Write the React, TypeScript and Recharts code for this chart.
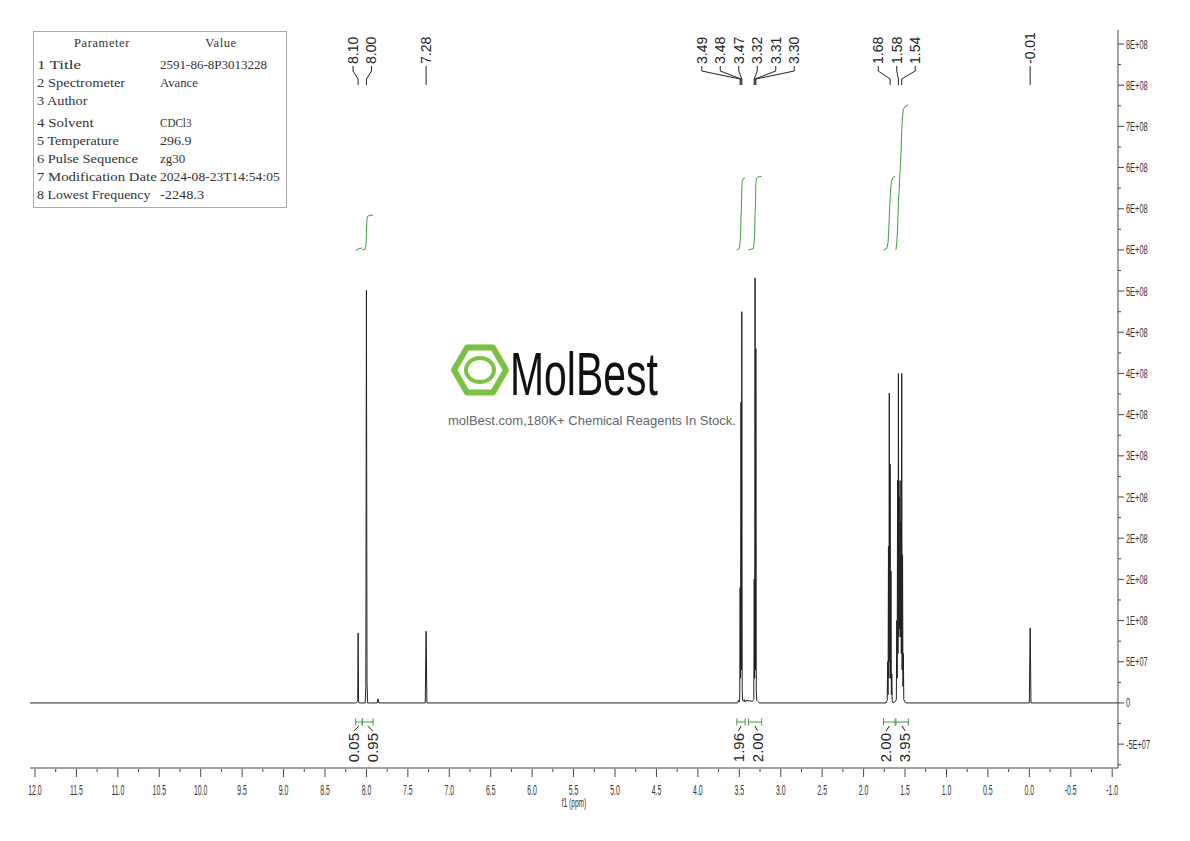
import React from "react";
import { ComposedChart, Line, Scatter, XAxis, YAxis } from "recharts";

// 1H NMR trace: [ppm, intensity]
const spectrum: [number, number][] = [
  [12.06, 0],
  [8.13, 0], [8.105, 0.02e8], [8.1, 0.85e8], [8.095, 0.02e8], [8.09, 0],
  [8.015, 0], [8.007, 0.2e8], [8.0, 5.01e8], [7.993, 0.25e8], [7.985, 0],
  [7.87, 0], [7.86, 0.05e8], [7.85, 0],
  [7.29, 0], [7.28, 0.87e8], [7.27, 0],
  [3.52, 0], [3.51, 0.03e8], [3.5, 0.01e8], [3.495, 0.05e8], [3.49, 1.4e8], [3.485, 0.3e8],
  [3.48, 3.65e8], [3.475, 0.4e8], [3.47, 4.75e8], [3.465, 0.15e8], [3.46, 0.03e8],
  [3.45, 0.02e8], [3.44, 0.04e8], [3.43, 0.01e8], [3.42, 0.03e8],
  [3.34, 0.02e8], [3.33, 0.04e8], [3.325, 0.05e8], [3.32, 1.5e8], [3.315, 0.3e8],
  [3.31, 5.16e8], [3.305, 0.4e8], [3.3, 4.3e8], [3.295, 0.15e8], [3.29, 0.03e8],
  [3.28, 0.02e8], [3.27, 0.01e8], [3.26, 0],
  [1.73, 0], [1.715, 0.03e8], [1.71, 0.5e8], [1.705, 0.1e8], [1.7, 1.9e8], [1.695, 0.3e8],
  [1.69, 3.76e8], [1.685, 0.5e8], [1.68, 2.9e8], [1.675, 0.3e8], [1.67, 1.6e8],
  [1.665, 0.1e8], [1.66, 0.35e8], [1.655, 0.03e8], [1.645, 0],
  [1.615, 0.02e8], [1.605, 0.04e8], [1.6, 1.0e8], [1.595, 0.3e8], [1.59, 2.7e8],
  [1.585, 0.6e8], [1.58, 4.0e8], [1.575, 0.8e8], [1.57, 2.5e8], [1.565, 0.9e8],
  [1.56, 2.7e8], [1.555, 0.8e8], [1.55, 2.2e8], [1.545, 0.6e8], [1.54, 4.0e8],
  [1.535, 0.4e8], [1.53, 1.8e8], [1.525, 0.2e8], [1.52, 0.6e8], [1.515, 0.04e8],
  [1.5, 0.01e8], [1.49, 0],
  [0.0, 0], [-0.01, 0.91e8], [-0.02, 0],
  [-1.07, 0],
];

const peakLabels = [8.1, 8.0, 7.28, 3.49, 3.48, 3.47, 3.32, 3.31, 3.3, 1.68, 1.58, 1.54, -0.01];

// integrals
const intFrom = [8.13, 8.05, 3.53, 3.39, 1.76, 1.61];
const intTo = [8.05, 7.92, 3.43, 3.23, 1.62, 1.46];
const intValues = [0.05, 0.95, 1.96, 2.0, 2.0, 3.95];
const intCurvePpm = [
  [8.13, 8.105, 8.095, 8.05],
  [8.05, 8.015, 8.007, 8.0, 7.993, 7.985, 7.95, 7.92],
  [3.53, 3.5, 3.49, 3.485, 3.48, 3.475, 3.47, 3.465, 3.45, 3.43],
  [3.39, 3.33, 3.32, 3.315, 3.31, 3.305, 3.3, 3.295, 3.28, 3.23],
  [1.76, 1.72, 1.705, 1.695, 1.685, 1.675, 1.665, 1.65, 1.62],
  [1.61, 1.6, 1.59, 1.58, 1.57, 1.56, 1.55, 1.54, 1.53, 1.52, 1.49, 1.46],
];
const intCurveFrac = [
  [0, 0.1, 0.9, 1],
  [0, 0.02, 0.1, 0.5, 0.9, 0.97, 0.99, 1],
  [0, 0.02, 0.12, 0.22, 0.45, 0.55, 0.85, 0.95, 0.99, 1],
  [0, 0.02, 0.12, 0.18, 0.5, 0.6, 0.9, 0.97, 0.99, 1],
  [0, 0.02, 0.1, 0.3, 0.6, 0.8, 0.93, 0.98, 1],
  [0, 0.05, 0.15, 0.32, 0.42, 0.55, 0.65, 0.82, 0.92, 0.97, 0.99, 1],
];

const xMajorTicks = [12, 11.5, 11, 10.5, 10, 9.5, 9, 8.5, 8, 7.5, 7, 6.5, 6, 5.5, 5, 4.5, 4, 3.5, 3, 2.5, 2, 1.5, 1, 0.5, 0, -0.5, -1];
const yMajorTicks = [-5e7, 0, 5e7, 1e8, 1.5e8, 2e8, 2.5e8, 3e8, 3.5e8, 4e8, 4.5e8, 5e8, 5.5e8, 6e8, 6.5e8, 7e8, 7.5e8, 8e8];

const paramNames = ["1 Title", "2 Spectrometer", "3 Author", "4 Solvent", "5 Temperature", "6 Pulse Sequence", "7 Modification Date", "8 Lowest Frequency"];
const paramValues = ["2591-86-8P3013228", "Avance", "", "CDCl3", "296.9", "zg30", "2024-08-23T14:54:05", "-2248.3"];

// layout
const W = 1190;
const H = 841;
const MARGIN = { top: 30, right: 10, bottom: 33, left: 30 };
const Y_AXIS_W = 62;
const X_AXIS_H = 40;
const X_DOMAIN: [number, number] = [-1.07, 12.06];
const Y_DOMAIN: [number, number] = [-7.9e7, 8.17e8];
const PLOT_W = W - MARGIN.left - MARGIN.right - Y_AXIS_W;
const PLOT_H = H - MARGIN.top - MARGIN.bottom - X_AXIS_H;
const PX_PER_PPM = PLOT_W / (X_DOMAIN[1] - X_DOMAIN[0]);
const PX_PER_UNIT = PLOT_H / (Y_DOMAIN[1] - Y_DOMAIN[0]);
const yAt = (py: number) => Y_DOMAIN[1] - (py - MARGIN.top) / PX_PER_UNIT;

const GREEN = "#3f9b3f";
const INK = "#222";
const AXIS_FONT = "Liberation Sans, Arial, sans-serif";

const INT_BASE_PX = 250;
const INT_PX_PER_UNIT = 36.8;

// group close items and spread their labels evenly around the group centre
function cluster(values: number[], gap: number): number[][] {
  const out: number[][] = [];
  values.forEach((v, i) => {
    const last = out[out.length - 1];
    if (last && Math.abs(values[last[last.length - 1]] - v) < gap) last.push(i);
    else out.push([i]);
  });
  return out;
}
function spread(centers: number[], gap: number, spacingPx: number): number[] {
  const pos: number[] = new Array(centers.length);
  cluster(centers, gap).forEach((g) => {
    const mid = g.reduce((s, i) => s + centers[i], 0) / g.length;
    g.forEach((i, k) => {
      pos[i] = mid + (((g.length - 1) / 2 - k) * spacingPx) / PX_PER_PPM;
    });
  });
  return pos;
}

const specData = spectrum.map(([x, y]) => ({ x, y }));

const topLabelPos = spread(peakLabels, 0.3, 18.5);
const topLabelData = peakLabels.map((p, i) => ({ x: topLabelPos[i], y: yAt(64), text: p.toFixed(2) }));
const topConnData = peakLabels.flatMap((p, i) => [
  { x: topLabelPos[i], y: yAt(66) },
  { x: topLabelPos[i], y: yAt(71) },
  { x: p, y: yAt(79) },
  { x: p, y: yAt(85) },
  { x: p, y: null },
]);

const intData = intCurvePpm.flatMap((ppms, k) => [
  ...ppms.map((p, j) => ({
    x: p,
    y: yAt(INT_BASE_PX - intValues[k] * INT_PX_PER_UNIT * intCurveFrac[k][j]),
  })),
  { x: ppms[ppms.length - 1], y: null },
]);

const bracketData = intFrom.flatMap((f, k) => {
  const t = intTo[k];
  return [
    { x: f, y: yAt(718.5) }, { x: f, y: yAt(725.5) }, { x: f, y: null },
    { x: f, y: yAt(722) }, { x: t, y: yAt(722) }, { x: t, y: null },
    { x: t, y: yAt(718.5) }, { x: t, y: yAt(725.5) }, { x: t, y: null },
  ];
});
const intCenters = intFrom.map((f, k) => (f + intTo[k]) / 2);
const intLabelPos = spread(intCenters, 0.35, 19);
const intLabelData = intValues.map((v, k) => ({ x: intLabelPos[k], y: yAt(733), text: v.toFixed(2) }));
const intConnData = intCenters.flatMap((c, k) => [
  { x: c, y: yAt(726) },
  { x: intLabelPos[k], y: yAt(731) },
  { x: c, y: null },
]);

const xTicks = [
  ...xMajorTicks,
  ...xMajorTicks.slice(1).map((v, i) => (v + xMajorTicks[i]) / 2),
];
const yStep = yMajorTicks[1] - yMajorTicks[0];
const yTicks = [
  ...yMajorTicks,
  ...yMajorTicks.slice(1).map((v, i) => (v + yMajorTicks[i]) / 2),
  yMajorTicks[0] - yStep / 2,
];

// 1.5e8 -> "2E+08", 2.5e8 -> "2E+08" (round half to even)
function sci(v: number): string {
  if (v === 0) return "0";
  const e = Math.floor(Math.log10(Math.abs(v)) + 1e-9);
  const m = v / Math.pow(10, e);
  const a = Math.abs(m);
  const f = Math.floor(a);
  let r = Math.round(a);
  if (Math.abs(a - f - 0.5) < 1e-9) r = f % 2 === 0 ? f : f + 1;
  return `${m < 0 ? "-" : ""}${r}E${e < 0 ? "-" : "+"}${String(Math.abs(e)).padStart(2, "0")}`;
}

const XTick = (props: any) => {
  const { x, y, payload } = props;
  const v = payload.value as number;
  const major = xMajorTicks.some((t) => Math.abs(t - v) < 1e-9);
  return (
    <g>
      <line x1={x} y1={y + 1} x2={x} y2={y + (major ? 9 : 4)} stroke="#444" />
      {major && (
        <text transform={`translate(${x},${y + 27}) scale(0.46,1)`} textAnchor="middle" fontSize={15} fontFamily={AXIS_FONT} fill="#333">
          {v.toFixed(1)}
        </text>
      )}
    </g>
  );
};

const YTick = (props: any) => {
  const { x, y, payload } = props;
  const v = payload.value as number;
  const major = yMajorTicks.some((t) => Math.abs(t - v) < 1);
  return (
    <g>
      <line x1={x} y1={y} x2={x + (major ? 6 : 3)} y2={y} stroke="#444" />
      {major && (
        <text transform={`translate(${x + 8},${y + 4.5}) scale(0.55,1)`} textAnchor="start" fontSize={13.5} fontFamily={AXIS_FONT} fill="#333">
          {sci(v)}
        </text>
      )}
    </g>
  );
};

const TopLabel = (p: any) => (
  <text x={p.cx} y={p.cy} transform={`rotate(-90 ${p.cx} ${p.cy})`} dy="0.35em" textAnchor="start" fontSize={14} fontFamily={AXIS_FONT} fill={INK}>
    {p.payload.text}
  </text>
);

const IntLabel = (p: any) => (
  <text x={p.cx} y={p.cy} transform={`rotate(-90 ${p.cx} ${p.cy})`} dy="0.35em" textAnchor="end" fontSize={15} fontFamily={AXIS_FONT} fill={INK}>
    {p.payload.text}
  </text>
);

const XTitle = (props: any) => {
  const vb = props.viewBox;
  const cx = vb.x + vb.width / 2;
  return (
    <text transform={`translate(${cx},${vb.y + 39}) scale(0.55,1)`} textAnchor="middle" fontSize={12} fontFamily={AXIS_FONT} fill="#333">
      f1 (ppm)
    </text>
  );
};

const rowY = [65, 83, 101, 123, 141, 159, 177, 195];

function Backdrop() {
  const hx = 480;
  const hy = 370;
  const R = 26;
  const hex = [0, 60, 120, 180, 240, 300]
    .map((a) => `${hx + R * Math.cos((a * Math.PI) / 180)},${hy + R * Math.sin((a * Math.PI) / 180)}`)
    .join(" ");
  const serif = "Liberation Serif, DejaVu Serif, serif";
  return (
    <svg width={W} height={H} style={{ position: "absolute", left: 0, top: 0 }}>
      <rect x={33.5} y={31.5} width={253} height={176} fill="none" stroke="#aaa" />
      <text x={102} y={47} textAnchor="middle" fontSize={12.5} fontFamily={serif} letterSpacing={0.6} fill="#333">Parameter</text>
      <text x={221} y={47} textAnchor="middle" fontSize={12.5} fontFamily={serif} letterSpacing={0.6} fill="#333">Value</text>
      {paramNames.map((n, i) => (
        <g key={n}>
          <text x={37} y={rowY[i] + 4} textLength={n.length * 6.3} lengthAdjust="spacingAndGlyphs" fontSize={12.5} fontFamily={serif} fill="#333">{n}</text>
          {paramValues[i] && (
            <text x={160} y={rowY[i] + 4} textLength={paramValues[i].length * 6.3} lengthAdjust="spacingAndGlyphs" fontSize={12.5} fontFamily={serif} fill="#333">{paramValues[i]}</text>
          )}
        </g>
      ))}
      <polygon points={hex} fill="none" stroke="#7cc242" strokeWidth={6} strokeLinejoin="round" />
      <ellipse cx={hx} cy={hy} rx={14} ry={12} fill="none" stroke="#7cc242" strokeWidth={4} />
      <text transform="translate(510,395) scale(0.66,1)" fontSize={62} fontFamily={AXIS_FONT} fill="#111">MolBest</text>
      <text x={448} y={425} fontSize={13} fontFamily={AXIS_FONT} fill="#666">molBest.com,180K+ Chemical Reagents In Stock.</text>
    </svg>
  );
}

export default function App() {
  return (
    <div style={{ position: "absolute", left: 0, top: 0, width: W, height: H, background: "#fff" }}>
      <Backdrop />
      <div style={{ position: "absolute", left: 0, top: 0 }}>
        <ComposedChart width={W} height={H} margin={MARGIN}>
          <XAxis
            type="number"
            dataKey="x"
            domain={X_DOMAIN}
            reversed
            allowDataOverflow
            ticks={xTicks}
            interval={0}
            tickLine={false}
            tickSize={0}
            tickMargin={0}
            tick={XTick}
            axisLine={{ stroke: "#444" }}
            height={X_AXIS_H}
            label={<XTitle />}
          />
          <YAxis
            type="number"
            dataKey="y"
            orientation="right"
            domain={Y_DOMAIN}
            allowDataOverflow
            ticks={yTicks}
            interval={0}
            tickLine={false}
            tickSize={0}
            tickMargin={0}
            tick={YTick}
            axisLine={{ stroke: "#444" }}
            width={Y_AXIS_W}
          />
          <Line data={specData} dataKey="y" type="linear" stroke={INK} strokeWidth={1} dot={false} activeDot={false} isAnimationActive={false} />
          <Line data={intData} dataKey="y" type="linear" stroke={GREEN} strokeWidth={1} dot={false} activeDot={false} isAnimationActive={false} />
          <Line data={bracketData} dataKey="y" type="linear" stroke={GREEN} strokeWidth={1} dot={false} activeDot={false} isAnimationActive={false} />
          <Line data={topConnData} dataKey="y" type="linear" stroke={INK} strokeWidth={1} dot={false} activeDot={false} isAnimationActive={false} />
          <Line data={intConnData} dataKey="y" type="linear" stroke={INK} strokeWidth={1} dot={false} activeDot={false} isAnimationActive={false} />
          <Scatter data={topLabelData} dataKey="y" shape={TopLabel} isAnimationActive={false} />
          <Scatter data={intLabelData} dataKey="y" shape={IntLabel} isAnimationActive={false} />
        </ComposedChart>
      </div>
    </div>
  );
}
